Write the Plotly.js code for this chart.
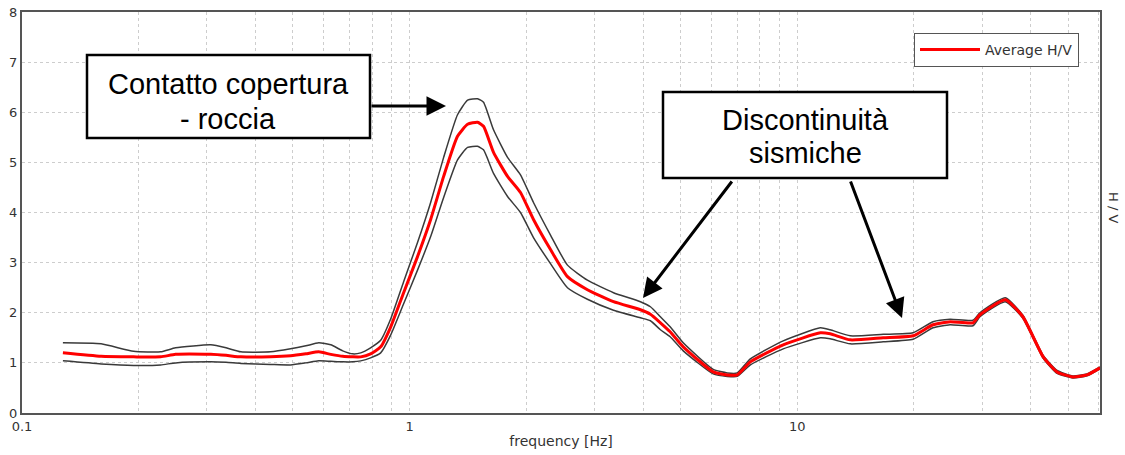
<!DOCTYPE html>
<html>
<head>
<meta charset="utf-8">
<script src="https://cdn.plot.ly/plotly-3.0.1.min.js"></script>
<style>html,body{margin:0;padding:0;background:#fff;}#chart{width:1125px;height:455px;}</style>
</head>
<body>
<div id="chart"></div>
<script>
// frequency [Hz]
const freq = [0.1275,0.16,0.194,0.228,0.249,0.307,0.336,0.367,0.438,0.493,0.54,0.583,0.626,0.672,0.713,0.748,0.793,0.842,0.894,0.965,1.048,1.133,1.224,1.329,1.411,1.497,1.551,1.646,1.789,1.932,2.087,2.309,2.554,2.875,3.357,3.939,4.18,4.436,4.7,5.08,6.07,6.6,7.0,7.57,9.2,11.47,12.16,13.7,16.66,19.9,22.4,24.8,28.4,29.6,34.4,38.2,43.1,46.8,51.4,55.9,60.4];
// average H/V
const avgHV = [1.20,1.13,1.12,1.12,1.17,1.17,1.15,1.12,1.12,1.14,1.18,1.22,1.17,1.13,1.12,1.12,1.18,1.32,1.72,2.40,3.12,3.86,4.72,5.52,5.76,5.80,5.72,5.20,4.72,4.40,3.86,3.26,2.72,2.46,2.22,2.06,1.97,1.80,1.62,1.32,0.82,0.76,0.76,1.02,1.36,1.60,1.58,1.46,1.50,1.54,1.76,1.82,1.80,1.96,2.26,1.92,1.12,0.82,0.72,0.76,0.90];
// upper bound
const upperHV = [1.40,1.38,1.23,1.22,1.30,1.36,1.30,1.22,1.22,1.28,1.34,1.40,1.36,1.24,1.18,1.20,1.30,1.45,1.88,2.62,3.40,4.20,5.10,5.95,6.24,6.27,6.20,5.65,5.10,4.75,4.20,3.55,2.95,2.65,2.40,2.22,2.12,1.92,1.72,1.40,0.87,0.80,0.80,1.08,1.44,1.70,1.66,1.54,1.57,1.60,1.82,1.87,1.85,2.00,2.30,1.95,1.15,0.85,0.74,0.78,0.92];
// lower bound
const lowerHV = [1.04,0.98,0.95,0.96,1.00,1.02,1.01,0.99,0.97,0.96,1.00,1.04,1.03,1.02,1.02,1.04,1.10,1.20,1.56,2.18,2.85,3.52,4.30,5.05,5.30,5.32,5.25,4.78,4.32,4.00,3.50,2.98,2.50,2.27,2.05,1.90,1.84,1.66,1.52,1.24,0.78,0.73,0.73,0.96,1.28,1.50,1.48,1.38,1.42,1.47,1.70,1.76,1.74,1.92,2.22,1.89,1.09,0.79,0.70,0.74,0.88];
const xTickVals = [0.1, 1, 10];
const xTickText = ['0.1', '1', '10'];
const yTickVals = [0,1,2,3,4,5,6,7,8];

// pixel -> paper helpers (plot area 22..1100 x, 12..413 y)
const L = 22, R = 1100, T = 12, B = 413;
const px = x => (x - L) / (R - L);
const py = y => (B - y) / (B - T);

const bandLine = {color: '#3a3a3a', width: 1.5, shape: 'spline', smoothing: 0.5};
const traces = [
  {x: freq, y: upperHV, mode: 'lines', line: bandLine, showlegend: false, hoverinfo: 'skip'},
  {x: freq, y: lowerHV, mode: 'lines', line: bandLine, showlegend: false, hoverinfo: 'skip'},
  {x: freq, y: avgHV, mode: 'lines', name: 'Average H/V', line: {color: '#ff0000', width: 3, shape: 'spline', smoothing: 0.5}}
];

const gridCol = '#cdcdcd';
const gridDash = '3px,3px';
const boxFont = {family: 'Liberation Sans, Arial, sans-serif', size: 29, color: '#000'};
const layout = {
  width: 1125, height: 455,
  margin: {l: L, r: 1125 - R, t: T, b: 455 - B, pad: 0},
  paper_bgcolor: '#fff', plot_bgcolor: '#fff',
  font: {family: 'DejaVu Sans, sans-serif', color: '#333'},
  xaxis: {
    type: 'log', range: [-1, Math.log10(60.4)],
    tickvals: xTickVals, ticktext: xTickText, ticks: '',
    tickfont: {size: 13, color: '#333', family: 'DejaVu Sans, sans-serif'},
    showgrid: true, gridcolor: gridCol, griddash: gridDash, gridwidth: 1,
    minor: {dtick: 'D1', showgrid: true, gridcolor: gridCol, griddash: gridDash, gridwidth: 1, ticks: ''},
    showline: true, linecolor: '#555', linewidth: 2, mirror: true, zeroline: false,
    title: {text: 'frequency [Hz]', font: {size: 14, color: '#333', family: 'DejaVu Sans, sans-serif'}, standoff: 4}
  },
  yaxis: {
    range: [0, 8], tickvals: yTickVals, ticks: '',
    tickfont: {size: 13, color: '#333', family: 'DejaVu Sans, sans-serif'},
    showgrid: true, gridcolor: gridCol, griddash: gridDash, gridwidth: 1,
    showline: true, linecolor: '#555', linewidth: 2, mirror: true, zeroline: false
  },
  legend: {
    x: px(1079), y: py(33), xanchor: 'right', yanchor: 'top',
    bgcolor: '#fff', bordercolor: '#555', borderwidth: 1,
    font: {size: 14, color: '#333', family: 'DejaVu Sans, sans-serif'},
    itemwidth: 60, tracegroupgap: 0
  },
  shapes: [
    {type: 'rect', xref: 'paper', yref: 'paper', x0: px(87), x1: px(370), y0: py(55), y1: py(138),
     line: {color: '#000', width: 2.5}, fillcolor: '#fff', layer: 'above'},
    {type: 'rect', xref: 'paper', yref: 'paper', x0: px(663), x1: px(947), y0: py(92), y1: py(178),
     line: {color: '#000', width: 2.5}, fillcolor: '#fff', layer: 'above'}
  ],
  annotations: [
    {xref: 'paper', yref: 'paper', x: px(228), y: py(84), text: 'Contatto copertura', showarrow: false, font: boxFont, xanchor: 'center', yanchor: 'middle'},
    {xref: 'paper', yref: 'paper', x: px(228), y: py(119), text: '- roccia', showarrow: false, font: boxFont, xanchor: 'center', yanchor: 'middle'},
    {xref: 'paper', yref: 'paper', x: px(805), y: py(120), text: 'Discontinuità', showarrow: false, font: boxFont, xanchor: 'center', yanchor: 'middle'},
    {xref: 'paper', yref: 'paper', x: px(805), y: py(153), text: 'sismiche', showarrow: false, font: boxFont, xanchor: 'center', yanchor: 'middle'},
    {xref: 'paper', yref: 'paper', x: px(446), y: py(106), ax: -76, ay: 0, text: '', showarrow: true,
     arrowhead: 2, arrowsize: 1.3, arrowwidth: 3, arrowcolor: '#000', standoff: 0, startstandoff: 0},
    {xref: 'paper', yref: 'paper', x: px(643), y: py(298), ax: 90, ay: -118, text: '', showarrow: true,
     arrowhead: 2, arrowsize: 1.3, arrowwidth: 3, arrowcolor: '#000', standoff: 0, startstandoff: 0},
    {xref: 'paper', yref: 'paper', x: px(902), y: py(318), ax: -52, ay: -138, text: '', showarrow: true,
     arrowhead: 2, arrowsize: 1.3, arrowwidth: 3, arrowcolor: '#000', standoff: 0, startstandoff: 0},
    {xref: 'paper', yref: 'paper', x: px(1114), y: py(208), text: 'H / V', showarrow: false, textangle: 90,
     font: {size: 13, color: '#333', family: 'DejaVu Sans, sans-serif'}, xanchor: 'center', yanchor: 'middle'}
  ]
};

Plotly.newPlot('chart', traces, layout, {staticPlot: true, displayModeBar: false});
</script>
</body>
</html>
